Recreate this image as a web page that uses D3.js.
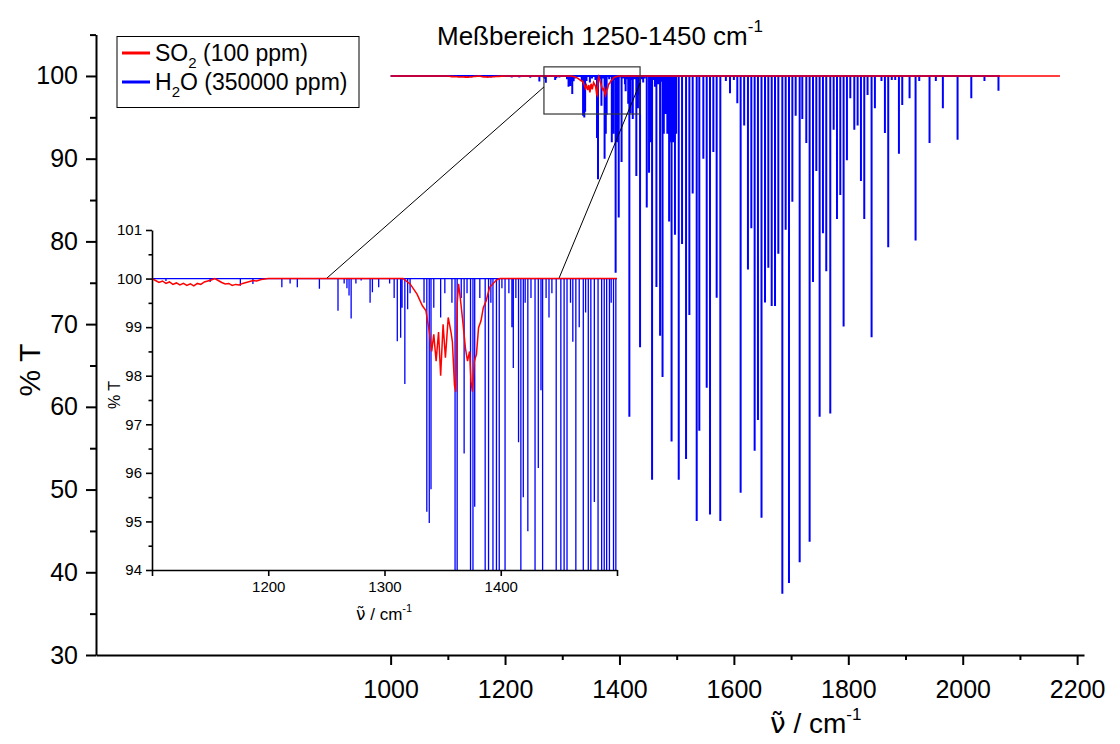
<!DOCTYPE html>
<html>
<head>
<meta charset="utf-8">
<script src="https://cdn.jsdelivr.net/npm/d3@7"></script>
<style>
  body { margin: 0; background: #fff; }
  svg { font-family: "Liberation Sans", Arial, sans-serif; }
</style>
</head>
<body>
<svg id="chart" width="1120" height="744"></svg>
<script>
// H2O absorption lines: [wavenumber cm-1, % T at line centre]
const h2oLines = [
  [1112, 99.95], [1150, 99.93], [1176, 99.85], [1186.8, 99.89], [1211.7, 99.82], [1218.8, 99.9],
  [1225, 99.82], [1244, 99.79], [1260, 99.34], [1265.3, 99.9], [1267.7, 99.8], [1269.5, 99.65],
  [1271.3, 99.18], [1275.4, 99.9], [1279.9, 99.96], [1287.6, 99.5], [1289.6, 99.72], [1295, 99.82],
  [1304.4, 99.9], [1308.3, 99.6], [1311, 98.71], [1313.9, 98.78], [1315.1, 99.4], [1317.5, 97.83],
  [1319.9, 99.37], [1322, 99.7], [1334, 99.5], [1336.4, 95.2], [1338.5, 94.97], [1340, 95.66],
  [1342.4, 99.4], [1348.3, 99.2], [1351.9, 99.7], [1358, 99.5], [1360.7, 92.5], [1362.5, 87.5],
  [1366, 99.6], [1368.5, 96.4], [1371, 99.7], [1374, 90], [1376.1, 93], [1377.6, 95.3],
  [1382, 99.6], [1386.6, 92], [1389.5, 93], [1391.5, 99.5], [1393.3, 76.2], [1396.3, 92],
  [1398.7, 82.9], [1401, 99.8], [1403.7, 89.6], [1407, 99.7], [1409.6, 99.0], [1410.8, 98.16],
  [1413, 99.6], [1415.3, 96.63], [1417.3, 58.8], [1419.4, 95.5], [1421, 99.5], [1423.3, 94.8],
  [1426, 99.6], [1429.5, 87.9], [1432.3, 96.1], [1434.6, 97.7], [1436, 67.2], [1439, 99.6],
  [1441.5, 99.2], [1444, 99.7], [1447.7, 84.1], [1451.7, 88.3], [1454.5, 92], [1457, 51.2],
  [1460, 99.5], [1462, 98.7], [1464.6, 74.5], [1467.5, 99], [1471, 68.6], [1473, 99.3],
  [1475.3, 63.6], [1477.5, 93], [1480.5, 95.4], [1483.7, 93], [1486.8, 82.4], [1489, 92],
  [1491.1, 55.8], [1493.5, 92], [1495, 99.5], [1497, 80.8], [1499, 93],
  [1503.6, 51.2], [1509.4, 79.7], [1516.4, 53.7], [1522.2, 71.1], [1528, 85.8], [1535, 46.2],
  [1539.6, 57.1], [1546.6, 90], [1552.5, 62.3], [1558.3, 47], [1564.1, 90.8], [1569.9, 73.2],
  [1576.3, 46.2], [1586, 99.4], [1593.2, 97.9], [1600, 99.5], [1606, 96.7], [1611.8, 49.6],
  [1618, 94], [1624.6, 76.6], [1630.5, 81.6], [1636.3, 54.7], [1642.1, 58.4], [1648.3, 46.6],
  [1654.4, 72.6], [1660.2, 76.8], [1666.1, 72.2], [1671.9, 72.2], [1677.7, 78.5], [1684.7, 37.4],
  [1690.5, 81.4], [1696.3, 38.7], [1702.2, 84.8], [1708, 95.2], [1715, 41.2], [1719.6, 94.8],
  [1726.6, 91.9], [1732.4, 43.7], [1738.3, 75.1], [1744.1, 88.5], [1749.9, 58.8], [1755.7, 81],
  [1761.5, 76.4], [1768.5, 59.2], [1774.4, 93.5], [1780.2, 82.7], [1786, 85.6], [1791.8, 69.7],
  [1797.6, 89.8], [1803.5, 97.3], [1810.5, 93.5], [1816.3, 94], [1822.1, 87.3], [1827.9, 82.7],
  [1833.7, 97.7], [1840.7, 68.4], [1846.5, 96.1], [1858, 99.4], [1864, 93.1], [1869.8, 79.3],
  [1876, 99.5], [1882, 99.5], [1888.5, 90.6], [1894.3, 96.5], [1907.1, 97.3], [1917.6, 80.1],
  [1924, 99.4], [1942, 91.9], [1953, 99.4], [1965.3, 96.1], [1991, 92.3], [2015, 97.3],
  [2038, 99.4], [2062.5, 98.2]
];
const h2oRange = [1000, 2065];

// SO2 spectrum: [wavenumber cm-1, % T]
const so2Points = [
  [1000, 100], [1100, 100], [1103, 99.96], [1106, 99.92], [1109, 99.95], [1112, 99.9],
  [1115, 99.93], [1118, 99.88], [1121, 99.91], [1124, 99.87], [1127, 99.9], [1130, 99.86],
  [1133, 99.89], [1136, 99.85], [1139, 99.9], [1142, 99.88], [1145, 99.93], [1148, 99.95],
  [1151, 99.97], [1154, 100], [1157, 99.96], [1160, 99.92], [1163, 99.89], [1166, 99.9],
  [1169, 99.86], [1172, 99.88], [1175, 99.87], [1178, 99.9], [1181, 99.92], [1184, 99.94],
  [1187, 99.96], [1190, 99.95], [1194, 99.98], [1200, 100], [1316, 100], [1322, 99.89],
  [1328, 99.68], [1332.6, 99.44], [1335.6, 99.34], [1338.5, 98.92], [1340.6, 98.5], [1342.4, 98.85],
  [1344.4, 98.3], [1346.5, 98.9], [1348.3, 98.0], [1350.4, 99.06], [1352.4, 98.37], [1354.8, 99.2],
  [1357.2, 98.9], [1358.4, 98.7], [1360.2, 97.8], [1361.4, 97.67], [1362.5, 99.47], [1363.7, 99.89],
  [1365.2, 99.6], [1367.3, 99.13], [1369.6, 98.57], [1371.4, 98.3], [1373.2, 98.5], [1374.4, 97.88],
  [1375.6, 97.67], [1377.3, 98.3], [1379.1, 98.44], [1380.9, 98.99], [1383, 99.13], [1385, 99.4],
  [1387.4, 99.54], [1390.4, 99.82], [1396.3, 99.97], [1399.3, 100], [2170, 100]
];

const mainXMajor = [1000, 1200, 1400, 1600, 1800, 2000, 2200];
const mainXMinor = [1100, 1300, 1500, 1700, 1900, 2100];
const mainYMajor = [30, 40, 50, 60, 70, 80, 90, 100];
const mainYMinor = [35, 45, 55, 65, 75, 85, 95, 105];
const insetXTicks = [1100, 1200, 1300, 1400, 1500];
const insetXLabels = [1200, 1300, 1400];
const insetYMajor = [94, 95, 96, 97, 98, 99, 100, 101];
const insetYMinor = [94.5, 95.5, 96.5, 97.5, 98.5, 99.5, 100.5];

const seriesNames = ['SO', 'H'];
// zoom box on the main plot and the two connector lines (main point -> inset point)
const zoomBox = [1268, 1436, 95.4, 101.1];
const zoomLinks = [[[1268, 98.67], [1250, 100]], [[1436, 99.15], [1450, 100]]];

const svg = d3.select('#chart');
const font = '"Liberation Sans", Arial, sans-serif';

// main scales
const x = d3.scaleLinear().domain([485, 2212]).range([96, 1084]);
const y = d3.scaleLinear().domain([30, 105]).range([655, 34.6]);
// inset scales
const xi = d3.scaleLinear().domain([1100, 1500]).range([152, 617]);
const yi = d3.scaleLinear().domain([94, 101]).range([570, 230]);

function stickPoints(lines, range) {
  const pts = [[range[0], 100]];
  lines.forEach(([wn, t]) => { pts.push([wn, 100], [wn, t], [wn, 100]); });
  pts.push([range[1], 100]);
  return pts;
}
const h2oPts = stickPoints(h2oLines, h2oRange);

const defs = svg.append('defs');
defs.append('clipPath').attr('id', 'clipMain').append('rect')
    .attr('x', x.range()[0]).attr('y', y.range()[1])
    .attr('width', x.range()[1] - x.range()[0]).attr('height', y.range()[0] - y.range()[1]);
defs.append('clipPath').attr('id', 'clipInset').append('rect')
    .attr('x', xi.range()[0]).attr('y', yi.range()[1])
    .attr('width', xi.range()[1] - xi.range()[0]).attr('height', yi.range()[0] - yi.range()[1]);

// ---------- main plot ----------
const lineMain = d3.line().x(d => x(d[0])).y(d => y(d[1]));
const gMain = svg.append('g').attr('clip-path', 'url(#clipMain)');
gMain.append('path').datum(h2oPts)
    .attr('d', lineMain).attr('fill', 'none').attr('stroke', '#0000ff').attr('stroke-width', 2);
gMain.append('path').datum(so2Points)
    .attr('d', lineMain).attr('fill', 'none').attr('stroke', '#ff0000').attr('stroke-width', 1.6);

function styleAxis(g, size, width) {
  g.attr('font-family', font).attr('font-size', size);
  g.selectAll('path, line').attr('stroke', '#000').attr('stroke-width', width);
  g.selectAll('text').attr('fill', '#000');
}

// "nu tilde / cm-1" label; DejaVu handles the combining tilde cleanly
function nuLabel(px, py, size, supSize, supDy) {
  const t = svg.append('text').attr('x', px).attr('y', py).attr('font-size', size);
  t.append('tspan').attr('font-family', '"DejaVu Sans"').text('\u03bd\u0303');
  t.append('tspan').text(' / cm');
  t.append('tspan').attr('font-size', supSize).attr('dy', supDy).text('-1');
}

const xAxisG = svg.append('g').attr('transform', `translate(0,${y.range()[0]})`)
    .call(d3.axisBottom(x).tickValues(mainXMajor).tickSize(10).tickSizeOuter(0).tickPadding(15).tickFormat(d3.format('d')));
styleAxis(xAxisG, 25, 2);
const xMinorG = svg.append('g').attr('transform', `translate(0,${y.range()[0]})`)
    .call(d3.axisBottom(x).tickValues(mainXMinor).tickSize(5).tickFormat(''))
    .call(g => g.select('.domain').remove());
styleAxis(xMinorG, 25, 2);

const yAxisG = svg.append('g').attr('transform', `translate(${x.range()[0]},0)`)
    .call(d3.axisLeft(y).tickValues(mainYMajor).tickSize(10).tickSizeOuter(0).tickPadding(8).tickFormat(d3.format('d')));
styleAxis(yAxisG, 25, 2);
const yMinorG = svg.append('g').attr('transform', `translate(${x.range()[0]},0)`)
    .call(d3.axisLeft(y).tickValues(mainYMinor).tickSize(6).tickFormat(''))
    .call(g => g.select('.domain').remove());
styleAxis(yMinorG, 25, 2);

// axis titles
svg.append('text').attr('transform', 'translate(40,370) rotate(-90)')
    .attr('text-anchor', 'middle').attr('font-size', 30).text('% T');
nuLabel(770, 733, 28, 17, -13);

// plot title
const title = svg.append('text').attr('x', 437).attr('y', 45).attr('font-size', 26);
title.append('tspan').text('Me\u00dfbereich 1250-1450 cm');
title.append('tspan').attr('font-size', 17).attr('dy', -13).text('-1');

// zoom box + connectors
svg.append('rect')
    .attr('x', x(zoomBox[0])).attr('y', y(zoomBox[3]))
    .attr('width', x(zoomBox[1]) - x(zoomBox[0])).attr('height', y(zoomBox[2]) - y(zoomBox[3]))
    .attr('fill', 'none').attr('stroke', '#333').attr('stroke-width', 1.2);
svg.selectAll('.link').data(zoomLinks).join('line')
    .attr('class', 'link')
    .attr('x1', d => x(d[0][0])).attr('y1', d => y(d[0][1]))
    .attr('x2', d => xi(d[1][0])).attr('y2', d => yi(d[1][1]))
    .attr('stroke', '#000').attr('stroke-width', 1);

// legend
const legend = svg.append('g');
legend.append('rect').attr('x', 117).attr('y', 36.5).attr('width', 242).attr('height', 71)
    .attr('fill', '#fff').attr('stroke', '#000').attr('stroke-width', 1);
const legendItems = [
  { color: '#ff0000', name: seriesNames[0], rest: ' (100 ppm)', y: 53 },
  { color: '#0000ff', name: seriesNames[1], rest: 'O (350000 ppm)', y: 82 }
];
legendItems.forEach(it => {
  legend.append('line').attr('x1', 122).attr('x2', 150).attr('y1', it.y).attr('y2', it.y)
      .attr('stroke', it.color).attr('stroke-width', 3);
  const t = legend.append('text').attr('x', 155).attr('y', it.y + 8).attr('font-size', 23);
  t.append('tspan').text(it.name);
  t.append('tspan').attr('font-size', 15).attr('dy', 7).text('2');
  t.append('tspan').attr('dy', -7).text(it.rest);
});

// ---------- inset ----------
const lineInset = d3.line().x(d => xi(d[0])).y(d => yi(d[1]));
const gInset = svg.append('g').attr('clip-path', 'url(#clipInset)');
gInset.append('path').datum(h2oPts)
    .attr('d', lineInset).attr('fill', 'none').attr('stroke', '#0000ff').attr('stroke-width', 1.3);
gInset.append('path').datum(so2Points)
    .attr('d', lineInset).attr('fill', 'none').attr('stroke', '#ff0000').attr('stroke-width', 1.5);

const xiG = svg.append('g').attr('transform', `translate(0,${yi.range()[0]})`)
    .call(d3.axisBottom(xi).tickValues(insetXTicks).tickSize(6).tickSizeOuter(0).tickPadding(5)
      .tickFormat(d => insetXLabels.includes(d) ? d : ''));
styleAxis(xiG, 15, 1.6);

const yiG = svg.append('g').attr('transform', `translate(${xi.range()[0]},0)`)
    .call(d3.axisLeft(yi).tickValues(insetYMajor).tickSize(6).tickSizeOuter(0).tickPadding(4).tickFormat(d3.format('d')));
styleAxis(yiG, 15, 1.6);
const yiMinorG = svg.append('g').attr('transform', `translate(${xi.range()[0]},0)`)
    .call(d3.axisLeft(yi).tickValues(insetYMinor).tickSize(3.5).tickFormat(''))
    .call(g => g.select('.domain').remove());
styleAxis(yiMinorG, 15, 1.6);

svg.append('text').attr('transform', 'translate(120,395) rotate(-90)')
    .attr('text-anchor', 'middle').attr('font-size', 16).text('% T');
nuLabel(356, 620, 17, 11, -8);
</script>
</body>
</html>
